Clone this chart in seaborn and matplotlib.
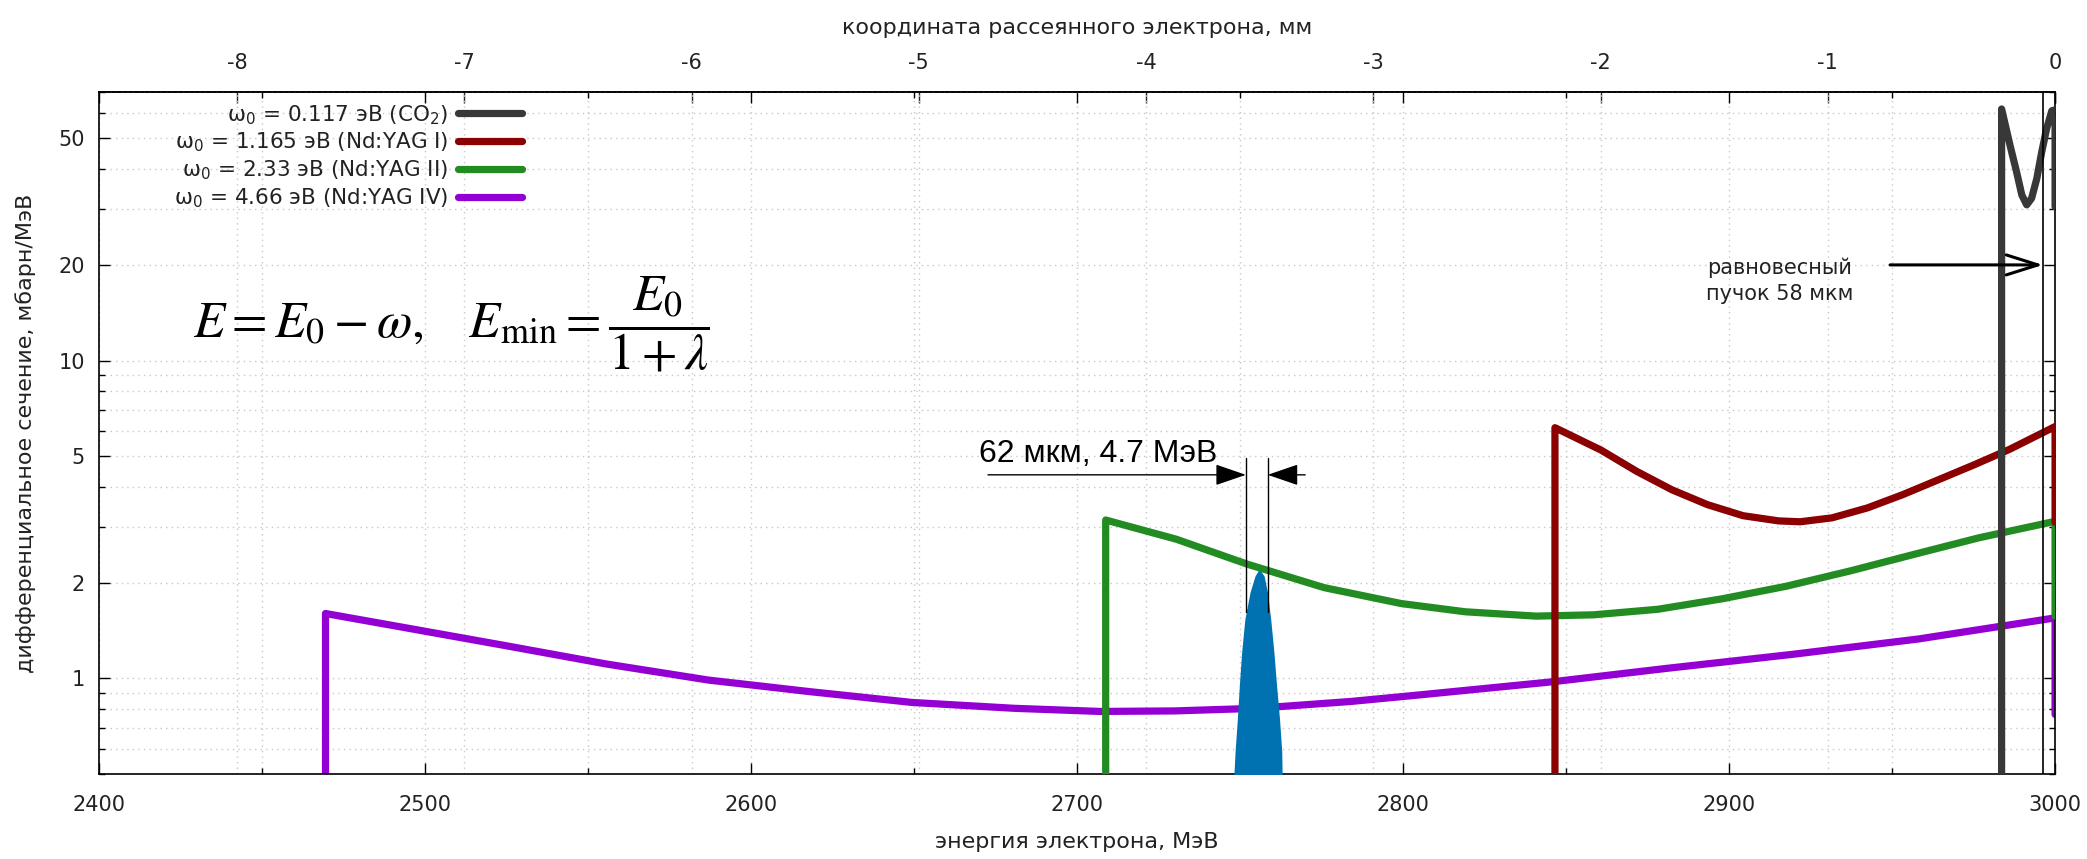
import numpy as np
import pandas as pd
import seaborn as sns
import matplotlib.pyplot as plt
from matplotlib.ticker import FixedLocator, MultipleLocator, LogLocator, NullFormatter, NullLocator, FuncFormatter

# electron energy (MeV) and differential cross section (mbarn/MeV)
# the first point of each curve sits below the axis so the left edge is drawn as a vertical line
co2_E = [2983.6, 2983.6, 2986.2, 2988.2, 2989.8, 2991.3, 2992.8, 2994.4, 2995.9, 2997.4, 2999.0, 3000.0, 3000.0]
co2_S = [0.01, 61.9, 47.5, 39.2, 33.2, 30.9, 32.4, 37.4, 45.3, 53.6, 61.1, 61.5, 30.5]

yag1_E = [2846.6, 2846.6, 2860.7, 2871.7, 2882.5, 2893.4, 2904.3, 2915.2, 2921.8, 2931.6,
          2942.5, 2953.4, 2964.3, 2975.2, 2986.1, 3000.0, 3000.0]
yag1_S = [0.01, 6.15, 5.23, 4.48, 3.92, 3.52, 3.25, 3.13, 3.11, 3.20,
          3.44, 3.79, 4.22, 4.70, 5.26, 6.2, 3.1]

yag2_E = [2708.8, 2708.8, 2730.5, 2752.1, 2775.8, 2799.4, 2819.1, 2840.8, 2858.5, 2878.2,
          2897.9, 2917.6, 2937.3, 2957.0, 2976.7, 3000.0, 3000.0]
yag2_S = [0.01, 3.15, 2.74, 2.29, 1.93, 1.72, 1.62, 1.57, 1.585, 1.65,
          1.78, 1.95, 2.18, 2.46, 2.77, 3.12, 1.57]

yag4_E = [2469.5, 2469.5, 2492.9, 2524.3, 2555.6, 2586.9, 2618.2, 2649.4, 2680.8, 2707.0,
          2730.0, 2755.0, 2784.0, 2804.0, 2846.0, 2880.8, 2919.4, 2958.0, 3000.0, 3000.0]
yag4_S = [0.01, 1.60, 1.45, 1.27, 1.11, 0.988, 0.908, 0.84, 0.805, 0.787,
          0.79, 0.805, 0.846, 0.885, 0.976, 1.075, 1.19, 1.33, 1.55, 0.77]

# scattered beam profile (blue peak)
beam_E = [2747.9, 2748.5, 2749.2, 2749.8, 2750.5, 2751.5, 2753.1, 2754.6, 2755.9,
          2757.4, 2758.4, 2759.4, 2760.4, 2761.2, 2762.1, 2762.8, 2763.0]
beam_S = [0.45, 0.59, 0.75, 0.953, 1.21, 1.54, 1.87, 2.10, 2.21,
          2.10, 1.87, 1.54, 1.21, 0.953, 0.75, 0.59, 0.45]

labels = [r'ω$_0$ = 0.117 эВ (CO$_2$)', r'ω$_0$ = 1.165 эВ (Nd:YAG I)',
          r'ω$_0$ = 2.33 эВ (Nd:YAG II)', r'ω$_0$ = 4.66 эВ (Nd:YAG IV)']
colors = ['#383838', '#8b0000', '#228b22', '#9400d3']

x_ticks = [2400, 2500, 2600, 2700, 2800, 2900, 3000]
mm_ticks = [-8, -7, -6, -5, -4, -3, -2, -1, 0]
y_ticks = [1, 2, 5, 10, 20, 50]
MEV_PER_MM = 69.7
E_BEAM = 3000.0

# annotations
eq_E, eq_S = 2428.8, 13.0
dim_E = [2751.8, 2758.5]
dim_S = [1.62, 4.94]
dim_arrow_S = 4.37
dim_tails = [2672.7, 2770.0]
dim_text = '62 мкм, 4.7 МэВ'
eqb_E = 2996.3
eqb_arrow = [2949.4, 2996.3]
eqb_S = 20


def e_to_mm(e):
    return (np.asarray(e) - E_BEAM) / MEV_PER_MM


def mm_to_e(mm):
    return E_BEAM + np.asarray(mm) * MEV_PER_MM


sns.set_theme(style='ticks')
plt.rcParams['font.family'] = ['DejaVu Sans']
plt.rcParams['axes.unicode_minus'] = False
plt.rcParams['axes.edgecolor'] = 'black'

fig, ax = plt.subplots(figsize=(20.87, 8.59), dpi=100)
fig.subplots_adjust(left=0.0474, right=0.9847, bottom=0.0989, top=0.8929)

curves = [(co2_E, co2_S), (yag1_E, yag1_S), (yag2_E, yag2_S), (yag4_E, yag4_S)]
zorders = [6, 5, 4, 2]
for (e, s), lab, col, z in zip(curves, labels, colors, zorders):
    df = pd.DataFrame({'E': e, 'S': s})
    sns.lineplot(data=df, x='E', y='S', ax=ax, color=col, lw=5.2, sort=False,
                 estimator=None, label=lab, zorder=z, legend=False,
                 solid_capstyle='round', solid_joinstyle='round')

ax.fill_between(beam_E, beam_S, 0.01, color='#0072b2', lw=0, zorder=3)

ax.set_yscale('log')
ax.set_xlim(2400, 3000)
ax.set_ylim(0.5, 70)

ax.xaxis.set_major_locator(FixedLocator(x_ticks))
ax.xaxis.set_minor_locator(MultipleLocator(50))
ax.yaxis.set_major_locator(FixedLocator(y_ticks))
ax.yaxis.set_major_formatter(FuncFormatter(lambda v, p: f'{v:g}'))
ax.yaxis.set_minor_locator(LogLocator(base=10, subs=range(1, 10), numticks=20))
ax.yaxis.set_minor_formatter(NullFormatter())

grid_kw = dict(color='#c8c8c8', linestyle=(0, (1, 3)), lw=1.0)
ax.grid(which='both', axis='both', **grid_kw)
for mm in mm_ticks[:-1]:
    ax.axvline(mm_to_e(mm), zorder=0.5, **grid_kw)

ax.tick_params(which='both', direction='in', top=True, right=True, width=1, colors='black',
               labelcolor='#222222')
ax.tick_params(which='major', length=8)
ax.tick_params(which='minor', length=4.5)
ax.tick_params(axis='x', labelsize=15, pad=15)
ax.tick_params(axis='y', labelsize=15, pad=10)
for sp in ax.spines.values():
    sp.set_linewidth(1.2)

ax.set_xlabel('энергия электрона, МэВ', fontsize=16, color='#222222', labelpad=12)
ax.set_ylabel('дифференциальное сечение, мбарн/МэВ', fontsize=16, color='#222222', labelpad=16)

secax = ax.secondary_xaxis('top', functions=(e_to_mm, mm_to_e))
secax.xaxis.set_major_locator(FixedLocator(mm_ticks))
secax.xaxis.set_minor_locator(NullLocator())
secax.xaxis.set_major_formatter(FuncFormatter(lambda v, p: f'{v:g}'))
secax.tick_params(direction='in', length=8, width=1, labelsize=15, pad=14, labelcolor='#222222')
secax.set_xlabel('координата рассеянного электрона, мм', fontsize=16, color='#222222', labelpad=13)

# equilibrium beam marker
ax.axvline(eqb_E, color='black', lw=1.2, zorder=7)
ax.annotate('', xy=(eqb_arrow[1], eqb_S), xytext=(eqb_arrow[0], eqb_S),
            arrowprops=dict(arrowstyle='->,head_length=1.9,head_width=0.6', lw=2.2,
                            color='black', shrinkA=0, shrinkB=0), zorder=8)
ax.text(2915.6, 17.8, 'равновесный\nпучок 58 мкм', ha='center', va='center',
        fontsize=15, linespacing=1.4, color='#222222')

# beam width dimension
for e in dim_E:
    ax.plot([e, e], dim_S, color='black', lw=1, zorder=7)
ax.annotate('', xy=(dim_E[0], dim_arrow_S), xytext=(dim_tails[0], dim_arrow_S),
            arrowprops=dict(arrowstyle='-|>,head_length=1.6,head_width=0.55', lw=1,
                            color='black', shrinkA=0, shrinkB=0), zorder=7)
ax.annotate('', xy=(dim_E[1], dim_arrow_S), xytext=(dim_tails[1], dim_arrow_S),
            arrowprops=dict(arrowstyle='-|>,head_length=1.6,head_width=0.55', lw=1,
                            color='black', shrinkA=0, shrinkB=0), zorder=7)
ax.text(2670, 4.78, dim_text, ha='left', va='baseline', fontsize=23,
        family=['Liberation Sans', 'DejaVu Sans'], color='black')

# formula
ax.text(eq_E, eq_S, r'$E=E_0-\omega,\quad E_{\min}=\dfrac{E_0}{1+\lambda}$',
        ha='left', va='center', fontsize=37, math_fontfamily='stix', color='black')

handles = ax.get_lines()[:4]
ax.legend(handles, labels, loc='upper right', bbox_to_anchor=(0.2165, 0.984),
          frameon=False, markerfirst=False, fontsize=15.5, handlelength=3.0,
          handletextpad=0.45, labelspacing=0.2, borderpad=0, borderaxespad=0,
          labelcolor='#222222')

fig.savefig('out.png', dpi=100)
